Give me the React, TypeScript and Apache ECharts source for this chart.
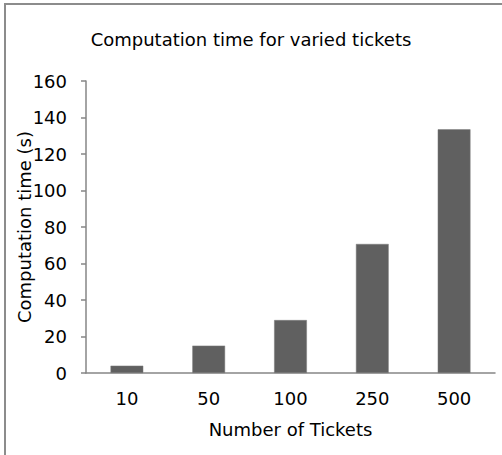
import React, { useEffect, useRef } from "react";
import * as echarts from "echarts";

const categories = ["10", "50", "100", "250", "500"];
const computationTimes = [4, 15, 29, 70.7, 133.5];
const yTicks = { min: 0, max: 160, interval: 20 };

const FONT = "'DejaVu Sans', sans-serif";

export default function App() {
  const ref = useRef<HTMLDivElement>(null);
  useEffect(() => {
    if (!ref.current) return;
    const chart = echarts.init(ref.current, undefined, { renderer: "svg" });
    chart.setOption({
      animation: false,
      backgroundColor: "#ffffff",
      title: {
        text: "Computation time for varied tickets",
        left: "center",
        top: 25,
        textStyle: { fontFamily: FONT, fontSize: 18, fontWeight: "normal", color: "#000" },
      },
      graphic: [
        {
          type: "rect",
          shape: { x: 5, y: 4, width: 700, height: 700 },
          style: { fill: "none", stroke: "#8c8c8c", lineWidth: 2 },
          silent: true,
        },
      ],
      grid: { left: 86, right: 7, top: 81, bottom: 82, containLabel: false, outerBoundsMode: "none" },
      xAxis: {
        type: "category",
        data: categories,
        name: "Number of Tickets",
        nameLocation: "middle",
        nameGap: 47,
        nameMoveOverlap: false,
        nameTextStyle: { fontFamily: FONT, fontSize: 18, color: "#000" },
        axisLine: { lineStyle: { color: "#868686", width: 1.5 } },
        axisTick: { show: false },
        axisLabel: { fontFamily: FONT, fontSize: 18, color: "#000", margin: 16 },
        splitLine: { show: false },
      },
      yAxis: {
        type: "value",
        min: yTicks.min,
        max: yTicks.max,
        interval: yTicks.interval,
        name: "Computation time (s)",
        nameLocation: "middle",
        nameGap: 53,
        nameMoveOverlap: false,
        nameTextStyle: { fontFamily: FONT, fontSize: 18, color: "#000" },
        axisLine: { show: true, lineStyle: { color: "#868686", width: 1.5 } },
        axisTick: { show: true, inside: false, length: 5, lineStyle: { color: "#868686", width: 1.5 } },
        axisLabel: { fontFamily: FONT, fontSize: 18, color: "#000", margin: 19 },
        splitLine: { show: false },
      },
      series: [
        {
          type: "bar",
          data: computationTimes,
          barWidth: "40%",
          itemStyle: { color: "#606060", borderColor: "#7a7a7a", borderWidth: 0.5 },
        },
      ],
    });
    return () => chart.dispose();
  }, []);
  return (
    <div
      ref={ref}
      style={{ position: "absolute", left: 0, top: 0, width: 502, height: 455, background: "#fff" }}
    />
  );
}
